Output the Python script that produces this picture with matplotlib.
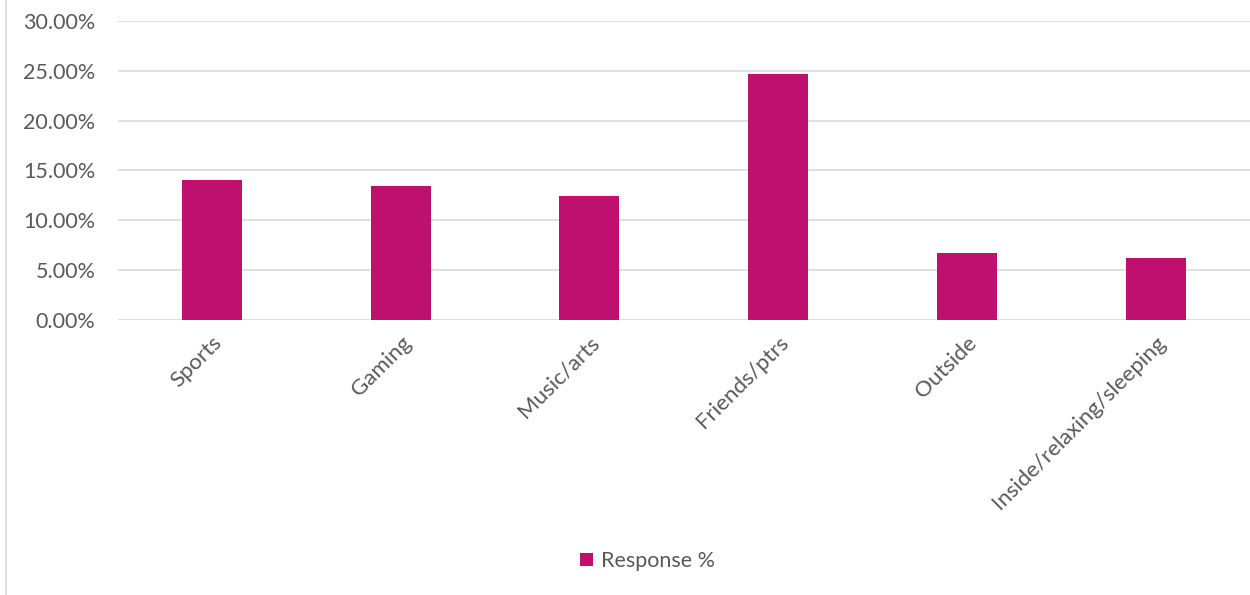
import numpy as np
import matplotlib.pyplot as plt
from matplotlib.lines import Line2D
from matplotlib.ticker import FuncFormatter, MultipleLocator

categories = ["Sports", "Gaming", "Music/arts", "Friends/ptrs", "Outside",
              "Inside/relaxing/sleeping"]
response = [0.140, 0.134, 0.124, 0.247, 0.067, 0.062]
series_name = "Response %"

bar_color = "#C0106F"
text_color = "#595959"
grid_color = "#D9D9D9"

plt.rcParams["font.family"] = ["Lato", "DejaVu Sans"]

fig = plt.figure(figsize=(12.5, 5.95), dpi=100)
ax = fig.add_axes([0.094, 0.462, 0.906, 0.503])

x = np.arange(len(categories))
ax.bar(x, response, width=0.317, color=bar_color, zorder=3, label=series_name)

ax.set_xlim(-0.5, len(categories) - 0.5)
ax.set_ylim(0, 0.30)
ax.yaxis.set_major_locator(MultipleLocator(0.05))
ax.yaxis.set_major_formatter(FuncFormatter(lambda v, p: f"{v * 100:.2f}%"))
ax.grid(axis="y", color=grid_color, linewidth=1.2, zorder=0)
ax.set_axisbelow(True)
for s in ax.spines.values():
    s.set_visible(False)

ax.set_xticks(x)
ax.set_xticklabels(categories, rotation=45, ha="right", rotation_mode="anchor")
ax.tick_params(axis="x", length=0, pad=9, labelsize=16, labelcolor=text_color)
ax.tick_params(axis="y", length=0, pad=16, labelsize=15.5, labelcolor=text_color)

# chart frame line on the left
fig.add_artist(Line2D([0.005, 0.005], [0, 1], transform=fig.transFigure,
                      color=grid_color, linewidth=1.2))

fig.legend(loc="center", bbox_to_anchor=(0.518, 0.057), frameon=False,
           fontsize=15.5, labelcolor=text_color, handlelength=0.6,
           handleheight=0.6, handletextpad=0.4)

fig.savefig("out.png", dpi=100)
